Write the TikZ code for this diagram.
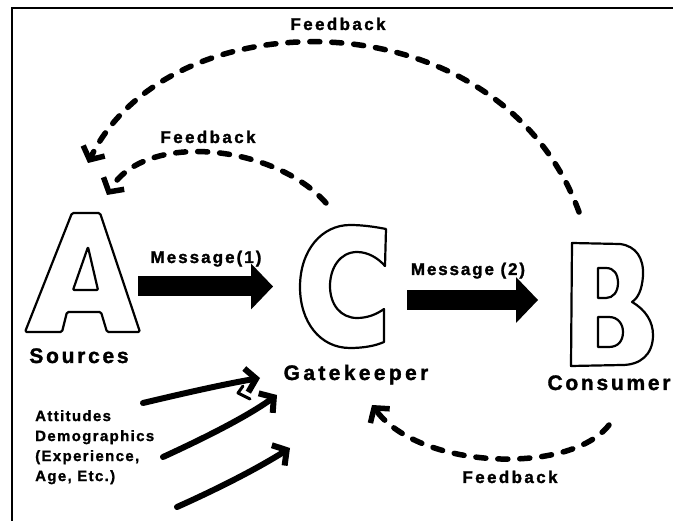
\documentclass[tikz,border=0pt]{standalone}
\usepackage{fontspec}
\setmainfont{Liberation Sans}
\usetikzlibrary{arrows.meta,calc}

% heavy, slightly tracked sans for every label
\newcommand{\heavy}[2]{\fontsize{#1}{#1}\selectfont\bfseries\addfontfeature{FakeBold=1.5,LetterSpace=#2}}

\tikzset{
  letter/.style={draw=black, line width=2.2pt, line join=round, fill=white},
  anchorbox/.style={inner sep=0pt, outer sep=0pt},
  lab/.style={inner sep=0pt, anchor=base},
  smalllab/.style={inner sep=0pt, align=left,
    font=\fontsize{15}{20}\selectfont\bfseries\addfontfeature{FakeBold=1.2,LetterSpace=9}},
  block/.style={line width=20pt,
    -{Triangle[length=22pt 0 0, width=46pt 0 0, line width=0pt 0 0]}},
  feedback/.style={line width=5.5pt, line cap=round, dash pattern=on 10pt off 12pt,
    -{Straight Barb[length=10pt 0 0, width=24pt 0 0]}},
  influence/.style={line width=6pt, line cap=round,
    -{Straight Barb[length=10pt 0 0, width=24pt 0 0]}},
}

\begin{document}
\begin{tikzpicture}[x=1pt, y=-1pt]
  \fill[white] (0,0) rectangle (673,521);
  \path[use as bounding box] (0,0) rectangle (673,521);

  % frame along the left and top edges
  \draw[line width=2.6pt] (12,521) -- (12,8) -- (673,8);

  % ---- letter A (sources) ----
  \draw[letter, rounded corners=1.5pt] (25,332) -- (72,213) -- (100,213) -- (140,332)
        -- (107,332) -- (101,312) -- (67,312) -- (62,332) -- cycle;
  \draw[letter, rounded corners=1pt] (88,247) -- (73,290) -- (98,290) -- cycle;
  \node[anchorbox, minimum width=115pt, minimum height=119pt] (A) at (82.5,272.5) {};

  % ---- letter C (gatekeeper) ----
  \draw[letter] (386,229) -- (385,266)
        .. controls (378,258) and (368,252) .. (357,252)
        .. controls (340,252) and (330,268) .. (330,286)
        .. controls (330,305) and (341,318) .. (357,318)
        .. controls (368,318) and (377,314) .. (384,309)
        -- (384,342)
        .. controls (375,346) and (363,348) .. (350,348)
        .. controls (320,348) and (300,322) .. (300,287)
        .. controls (300,250) and (322,225) .. (350,225)
        .. controls (363,225) and (376,227) .. (386,229) -- cycle;
  \node[anchorbox, minimum width=86pt, minimum height=123pt] (C) at (343,286.5) {};

  % ---- letter B (consumer) ----
  \draw[letter] (572,243) -- (620,244)
        .. controls (636,246) and (644,258) .. (643,276)
        .. controls (642,290) and (638,298) .. (632,302)
        .. controls (646,310) and (653,322) .. (653,335)
        .. controls (653,355) and (640,365) .. (622,365)
        -- (571,366) -- cycle;
  \draw[letter] (598,268) -- (606,268)
        .. controls (614,268) and (618,274) .. (618,283)
        .. controls (618,292) and (613,298) .. (606,298) -- (598,298) -- cycle;
  \draw[letter] (598,317) -- (609,317)
        .. controls (618,317) and (623,324) .. (623,332)
        .. controls (623,341) and (618,347) .. (609,347) -- (598,347) -- cycle;
  \node[anchorbox, minimum width=82pt, minimum height=123pt] (B) at (612,304.5) {};

  % ---- labels ----
  \node[lab, font=\heavy{21}{13}] (src)  at (79,363)  {Sources};
  \node[lab, font=\heavy{21}{16}] (gk)   at (356,380) {Gatekeeper};
  \node[lab, font=\heavy{21}{13}] (cons) at (609,390) {Consumer};
  \node[lab, font=\heavy{17}{12}] (msg1) at (206,263) {Message(1)};
  \node[lab, font=\heavy{17}{11}] (msg2) at (468,275) {Message (2)};
  \node[lab, font=\heavy{17}{14}] (fbtop) at (338,30)  {Feedback};
  \node[lab, font=\heavy{17}{14}] (fbmid) at (208,143) {Feedback};
  \node[lab, font=\heavy{17}{14}] (fbbot) at (510,483) {Feedback};
  \node[smalllab, anchor=north west] (attr) at (35,410)
        {Attitudes\\Demographics\\(Experience,\\Age, Etc.)};

  % ---- message flow ----
  \draw[block, shorten <=-2pt, shorten >=27pt] (A.east |- C.west) -- (C.west);
  \draw[block] ([xshift=21pt, yshift=-13.5pt]C.east) -- ([xshift=-33pt, yshift=4.5pt]B.west);

  % ---- feedback loops ----
  \coordinate (fbB) at (579,212);
  \coordinate (fbBend) at (88,163);
  \coordinate (fbC) at (326,203);
  \coordinate (fbCend) at (107,195);
  \coordinate (fbBlow) at (609,425);
  \coordinate (fbGend) at (372,405);
  \draw[feedback] (fbB) .. controls (500,-5) and (170,-5) .. (fbBend);
  \draw[feedback] (fbC) .. controls (275,145) and (145,130) .. (fbCend);
  \draw[feedback] (fbBlow) .. controls (570,475) and (420,470) .. (fbGend);

  % ---- influences on the gatekeeper ----
  \coordinate (in1s) at (143,403);
  \coordinate (in1e) at (260,378);
  \coordinate (in2s) at (163,457);
  \coordinate (in2e) at (277,395);
  \coordinate (in3s) at (177,507);
  \coordinate (in3e) at (290,448);
  \draw[influence] (in1s) .. controls (185,393) and (225,384) .. (in1e);
  \draw[influence] (in2s) .. controls (200,440) and (245,418) .. (in2e);
  \draw[influence] (in3s) .. controls (215,490) and (255,470) .. (in3e);
  \draw[line width=3pt, line cap=round, line join=round]
        (243,386) -- (238,393) -- (250,399);
\end{tikzpicture}
\end{document}
